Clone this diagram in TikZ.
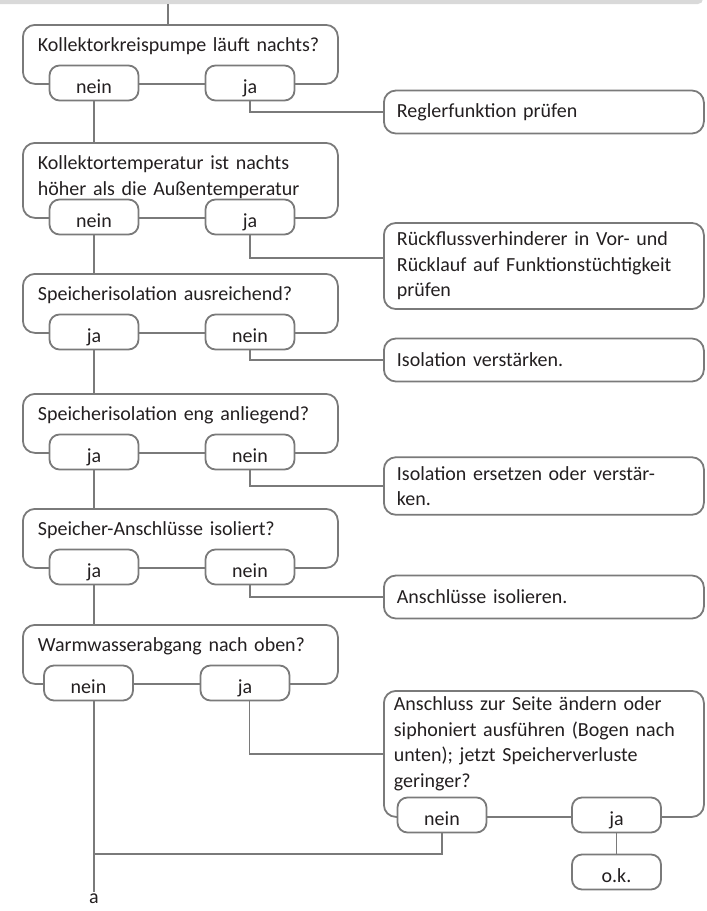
\documentclass[tikz,border=0pt]{standalone}
\usepackage{fontspec}
\setmainfont{Carlito}
\usepackage{xcolor}
\definecolor{flowGray}{HTML}{7A7A7A}
\definecolor{flowText}{HTML}{231F20}
\definecolor{barGray}{HTML}{D9D9D9}
\usepackage{tikz}

\begin{document}
\begin{tikzpicture}[x=1pt, y=-1pt,
  every node/.style={text=flowText, font=\fontsize{20}{25.5}\selectfont},
  box/.style={draw=flowGray, line width=1.8pt, rounded corners=12pt},
  frage/.style={box, anchor=north west, align=left, inner xsep=15pt, inner ysep=0pt,
    text width=285pt, text height=27pt, text depth=32pt},
  antwort/.style={box, fill=white, rounded corners=10pt, minimum width=89pt,
    minimum height=35pt, inner sep=0pt, text height=20pt, text depth=0pt},
  massnahme/.style={box, anchor=west, align=left, inner xsep=13pt, inner ysep=9pt,
    text width=294pt, minimum height=43pt},
  verb/.style={draw=flowGray, line width=1.8pt}]
  \useasboundingbox (0,0) rectangle (707,911);
  % ------- top bar -------
  \fill[barGray, rounded corners=5pt] (-10,-10) rectangle (703,4);
  \coordinate (start) at (168,4);
  % ------- questions -------
  \node[frage] (f1) at (22,24) {Kollektorkreispumpe läuft nachts?};
  \node[frage, text depth=48pt] (f2) at (22,142)
    {Kollektortemperatur ist nachts\\höher als die Außentemperatur};
  \node[frage] (f3) at (22,273) {Speicherisolation ausreichend?};
  \node[frage] (f4) at (22,393) {Speicherisolation eng anliegend?};
  \node[frage] (f5) at (22,508) {Speicher-Anschlüsse isoliert?};
  \node[frage] (f6) at (22,624) {Warmwasserabgang nach oben?};
  \node[frage, inner xsep=10pt, text width=300pt, text height=20pt, text depth=106pt] (f7) at (383,690)
    {Anschluss zur Seite ändern oder\\siphoniert ausführen (Bogen nach\\unten); jetzt Speicherverluste\\geringer?};
  % ------- answers -------
  \foreach \k/\y/\l/\r in {1/83/nein/ja, 2/217/nein/ja, 3/332/ja/nein, 4/452/ja/nein, 5/567/ja/nein} {
    \node[antwort] (li\k) at (94,\y) {\l};
    \node[antwort] (re\k) at (250,\y) {\r};
  }
  \node[antwort] (li6) at (88.5,683) {nein};
  \node[antwort] (re6) at (245,683) {ja};
  \node[antwort] (li7) at (442,815) {nein};
  \node[antwort] (re7) at (616.5,815) {ja};
  \node[antwort] (ok) at (616.5,872) {o.k.};
  % ------- measures -------
  \node[massnahme] (m1) at (383,112) {Reglerfunktion prüfen};
  \node[massnahme] (m2) at (383,266)
    {Rückflussverhinderer in Vor- und\\Rücklauf auf Funktionstüchtigkeit\\prüfen};
  \node[massnahme] (m3) at (383,360) {Isolation verstärken.};
  \node[massnahme] (m4) at (383,486) {Isolation ersetzen oder verstär-\\ken.};
  \node[massnahme] (m5) at (383,597) {Anschlüsse isolieren.};
  \node[anchor=north, inner sep=2pt] (ende) at (94,892) {a};
  \coordinate (knoten) at (94,854);
  % ------- connectors -------
  \draw[verb] (start) -- (start |- f1.north);
  \draw[verb] (li1.south) -- (li1.south |- f2.north);
  \draw[verb] (re1.south) |- (m1.west);
  \draw[verb] (li2.south) -- (li2.south |- f3.north);
  \draw[verb] (re2.south) |- ([yshift=8pt]m2.west);
  \draw[verb] (li3.south) -- (li3.south |- f4.north);
  \draw[verb] (re3.south) |- (m3.west);
  \draw[verb] (li4.south) -- (li4.south |- f5.north);
  \draw[verb] (re4.south) |- (m4.west);
  \draw[verb] (li5.south) -- (li5.south |- f6.north);
  \draw[verb] (re5.south) |- (m5.west);
  \draw[verb] ([xshift=5.5pt]li6.south) -- (ende.north);
  \draw[verb] ([xshift=4.5pt]re6.south) |- (f7.west);
  \draw[verb] (li7.south) |- (knoten);
  \draw[verb] (re7) -- (ok);
\end{tikzpicture}
\end{document}
